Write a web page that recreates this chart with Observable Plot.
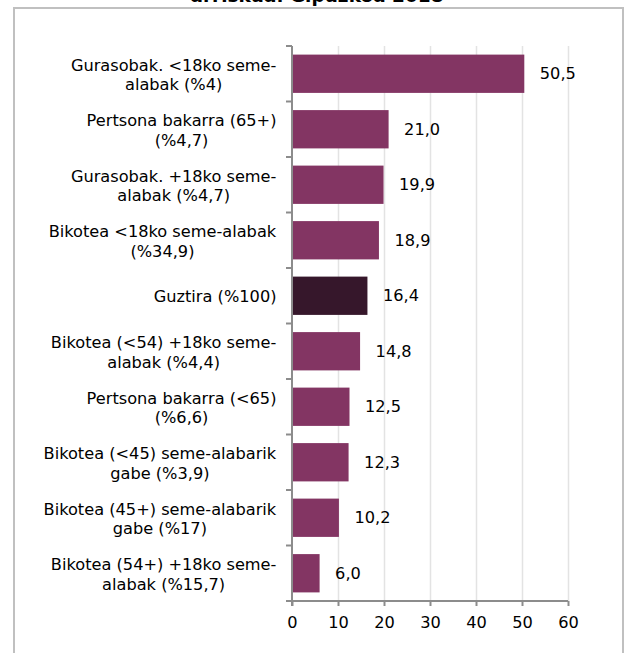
<!DOCTYPE html>
<html><head><meta charset="utf-8">
<script src="https://cdn.jsdelivr.net/npm/d3@7"></script>
<script src="https://cdn.jsdelivr.net/npm/@observablehq/plot@0.6"></script>
<style>
body{margin:0;background:#fff;font-family:"DejaVu Sans",Verdana,sans-serif;}
#wrap{position:relative;width:624px;height:653px;overflow:hidden;}
#frame{position:absolute;left:13px;top:7px;width:607px;height:700px;border:2px solid #c0c0c0;}
#title{position:absolute;left:0;width:634px;top:-13px;text-align:center;font-weight:bold;font-size:18.5px;line-height:18px;color:#000;}
#chart{position:absolute;left:0;top:0;}
</style></head><body>
<div id="wrap"><div id="frame"></div><div id="title">arriskua. Gipuzkoa 2018</div><div id="chart"></div></div>
<script>
const categories = [
  "Gurasobak. <18ko seme-\nalabak (%4)",
  "Pertsona bakarra (65+)\n(%4,7)",
  "Gurasobak. +18ko seme-\nalabak (%4,7)",
  "Bikotea <18ko seme-alabak\n(%34,9)",
  "Guztira (%100)",
  "Bikotea (<54) +18ko seme-\nalabak (%4,4)",
  "Pertsona bakarra (<65)\n(%6,6)",
  "Bikotea (<45) seme-alabarik\ngabe (%3,9)",
  "Bikotea (45+) seme-alabarik\ngabe (%17)",
  "Bikotea (54+) +18ko seme-\nalabak (%15,7)"
];
const values = [50.5, 21.0, 19.9, 18.9, 16.4, 14.8, 12.5, 12.3, 10.2, 6.0];
const highlight = "Guztira (%100)";
const xTicks = [0, 10, 20, 30, 40, 50, 60];

const data = categories.map((c, i) => ({cat: c, v: values[i]}));
const fmt = v => d3.format(".1f")(v).replace(".", ",");
const purple = "#833563";
const dark = "#36172b";
const axisGray = "#8c8c8c";
const fs = 16.2;

function axesMark(index, scales, values, dims) {
  const x = scales.x, y = scales.y;
  const step = y.step(), bw = y.bandwidth();
  const x0 = x(0);
  const g = d3.create("svg:g").attr("stroke", axisGray).attr("stroke-width", 2).attr("fill", "none");
  const bounds = categories.map(c => y(c) - (step - bw) / 2);
  bounds.push(y(categories[categories.length - 1]) + bw + (step - bw) / 2);
  const yBottom = bounds[bounds.length - 1];
  g.append("line").attr("x1", x0).attr("x2", x0).attr("y1", bounds[0]).attr("y2", yBottom + 5);
  g.append("line").attr("x1", x0 - 6).attr("x2", x(60)).attr("y1", yBottom).attr("y2", yBottom);
  for (const b of bounds.slice(0, -1)) {
    g.append("line").attr("x1", x0 - 6).attr("x2", x0).attr("y1", b).attr("y2", b);
  }
  return g.node();
}

const chart = Plot.plot({
  width: 624,
  height: 653,
  marginLeft: 292,
  marginRight: 56,
  marginTop: 46,
  marginBottom: 52,
  style: {fontFamily: '"DejaVu Sans", Verdana, sans-serif', color: "#000", background: "transparent"},
  x: {domain: [0, 60]},
  y: {domain: categories, paddingInner: 0.31, paddingOuter: 0.155, round: false},
  marks: [
    Plot.gridX(xTicks.slice(1), {stroke: "#e3e3e3", strokeOpacity: 1, strokeWidth: 1.5}),
    Plot.barX(data, {x: "v", y: "cat", fill: d => d.cat === highlight ? dark : purple}),
    Plot.text(data, {x: "v", y: "cat", text: d => fmt(d.v), textAnchor: "start", dx: 15, fontSize: fs, fill: "#000"}),
    Plot.axisX({ticks: xTicks, tickSize: 5, tickPadding: 10, fontSize: fs, stroke: axisGray, strokeWidth: 2, fill: "#000", label: null, tickFormat: d => String(d)}),
    Plot.axisY({tickSize: 0, tickPadding: 16, fontSize: fs, lineHeight: 1.19, fill: "#000", label: null}),
    axesMark
  ]
});
document.getElementById("chart").appendChild(chart);

// center each wrapped label's lines within its block (block right-aligned to the axis)
const yAxisG = chart.querySelector('g[aria-label="y-axis tick label"]');
if (yAxisG) {
  yAxisG.querySelectorAll("text").forEach(t => {
    const w = t.getBBox().width;
    t.setAttribute("text-anchor", "middle");
    const tspans = t.querySelectorAll("tspan");
    if (tspans.length) tspans.forEach(s => s.setAttribute("x", -w / 2));
    else t.setAttribute("x", -w / 2);
  });
}
</script>
</body></html>
